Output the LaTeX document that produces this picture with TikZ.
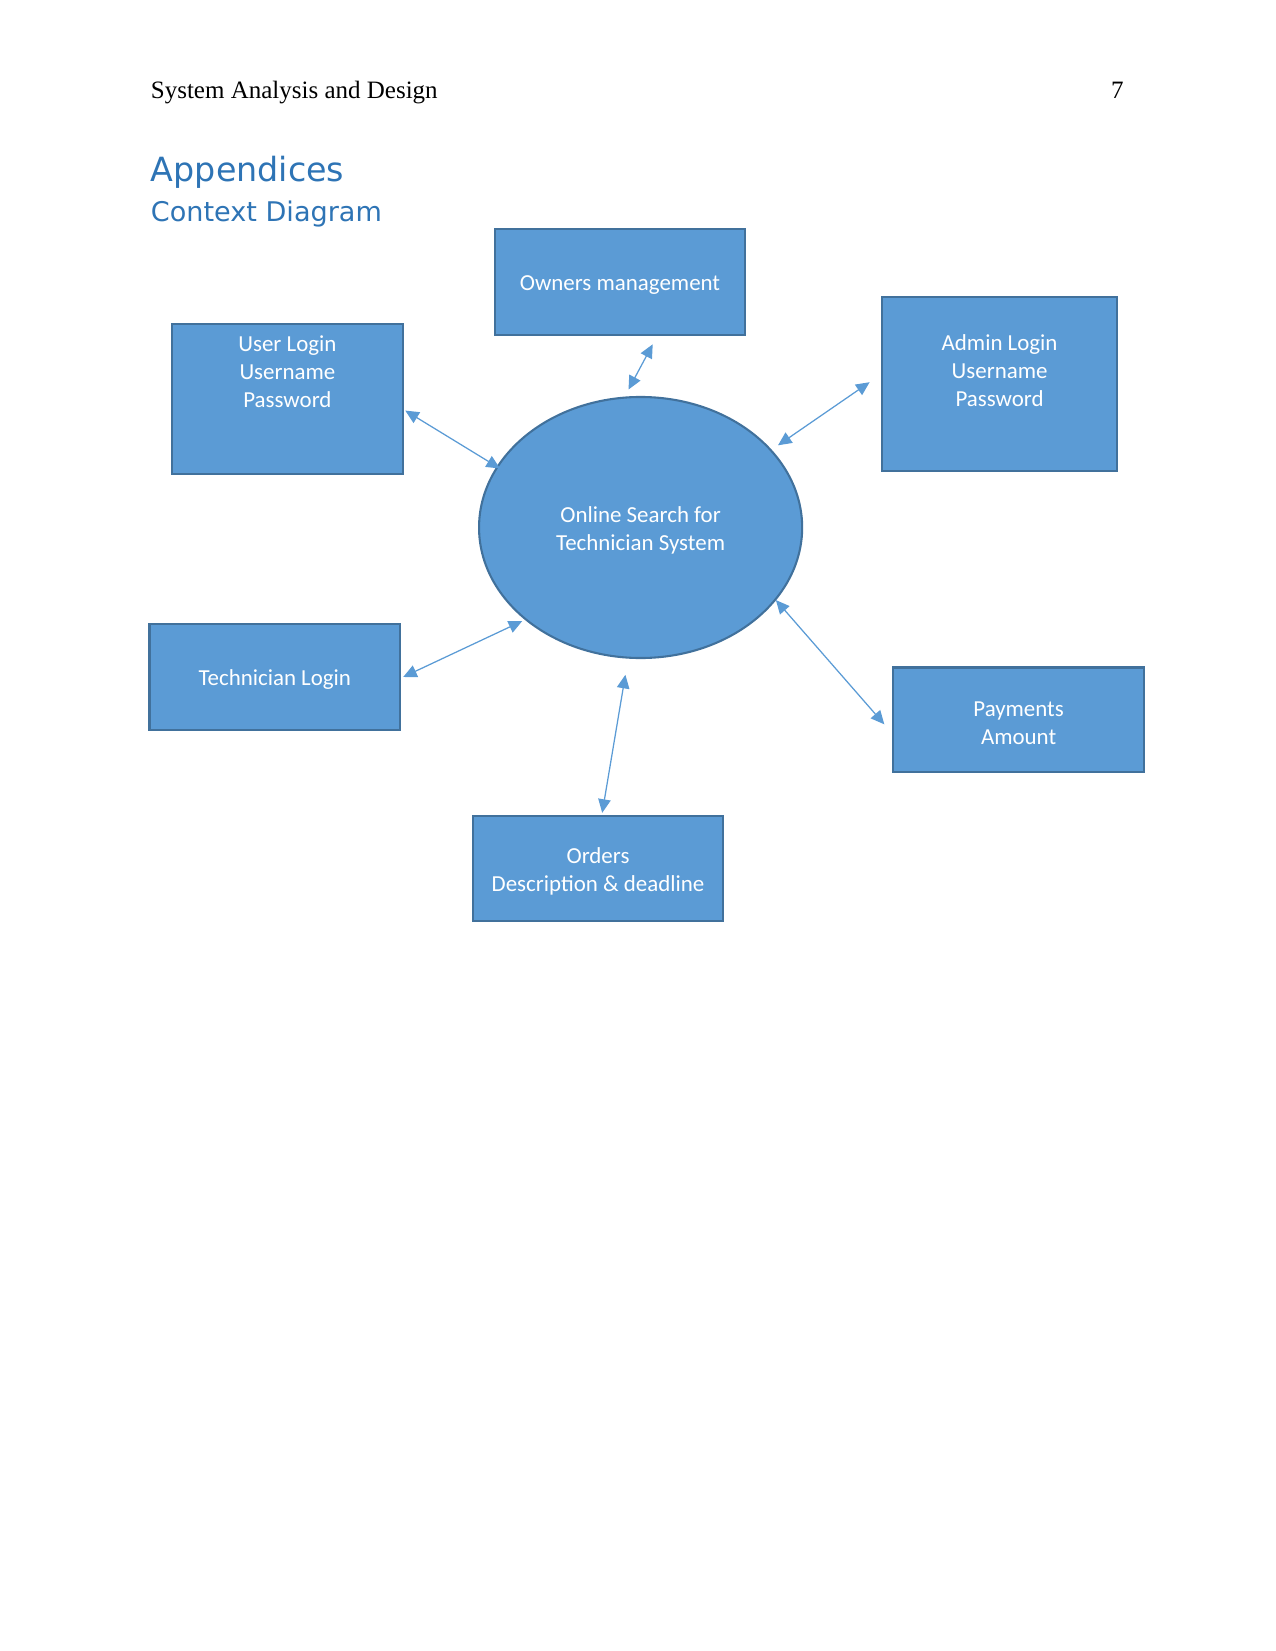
\documentclass[tikz,border=0pt]{standalone}
\usepackage{xcolor}
\usepackage{fontspec}
\setmainfont{Liberation Serif}
\newfontfamily\boxfont{Carlito}
\newfontfamily\headfont{DejaVu Sans}
\usetikzlibrary{positioning,shapes.geometric,arrows.meta}

\definecolor{boxfill}{HTML}{5B9BD5}
\definecolor{boxline}{HTML}{41719C}
\definecolor{headblue}{HTML}{2E74B5}

\begin{document}
\begin{tikzpicture}[x=0.48pt,y=-0.48pt,
  entity/.style={draw=boxline, line width=1pt, fill=boxfill, text=white,
    font=\boxfont\fontsize{11}{13.5}\selectfont, align=center, text height=10.3pt,
    minimum width=120.3pt, minimum height=50.5pt, inner sep=2pt},
  twoline/.style={text height=23.8pt},
  boxtext/.style={text=white, font=\boxfont\fontsize{11}{13.5}\selectfont, align=center},
  process/.style={entity, twoline, ellipse, minimum width=155.1pt, minimum height=125.3pt},
  arr/.style={<->, draw=boxfill, line width=0.6pt, >={Triangle[length=6.5pt,width=6pt]}}
]
  \useasboundingbox (0,0) rectangle (1275,1651);

  % page header and headings
  \node[anchor=base west, inner sep=0pt, font=\fontsize{12}{14}\selectfont] (hdr) at (150.5,99) {System Analysis and Design};
  \node[anchor=base east, inner sep=0pt, font=\fontsize{12}{14}\selectfont] (pg) at (1124,99) {7};
  \node[anchor=base west, inner sep=0pt, text=headblue, font=\headfont\fontsize{16}{19}\selectfont] (app) at (150.5,182) {Appendices};
  \node[anchor=base west, inner sep=0pt, text=headblue, font=\headfont\fontsize{13}{16}\selectfont] (ctx) at (150.5,222) {Context Diagram};

  % central process
  \node[process] (sys) at (640.6,527.5) {Online Search for\\Technician System};

  % external entities
  \node[entity] (own) at (620,282) {Owners management};
  \node[entity, minimum width=111.2pt, minimum height=71.8pt,
    label={[boxtext, yshift=13.2pt]center:{User Login\\Username\\Password}}] (user) at (287.4,399) {};
  \node[entity, minimum width=112.7pt, minimum height=83.4pt,
    label={[boxtext, yshift=6.5pt]center:{Admin Login\\Username\\Password}}] (admin) at (999.6,383.8) {};
  \node[entity] (tech) at (274.8,677) {Technician Login};
  \node[entity, twoline, minimum width=120.8pt, minimum height=50pt] (pay) at (1018.6,719.6) {Payments\\Amount};
  \node[entity, twoline] (ord) at (598,868.6) {Orders\\Description \& deadline};

  % arrow ends
  \coordinate (own-a) at (652.7,344.3);
  \coordinate (own-b) at (628.5,389.5);
  \coordinate (user-a) at (405.3,410.6);
  \coordinate (user-b) at (500,468.5);
  \coordinate (admin-a) at (869.6,382.2);
  \coordinate (admin-b) at (778,445.3);
  \coordinate (tech-a) at (403.2,677);
  \coordinate (tech-b) at (522.2,621.1);
  \coordinate (ord-a) at (625.4,674.8);
  \coordinate (ord-b) at (602.2,812.8);
  \coordinate (pay-a) at (775.9,600.1);
  \coordinate (pay-b) at (884.3,724.3);

  % data flows
  \draw[arr] (own-a) -- (own-b);
  \draw[arr] (user-a) -- (user-b);
  \draw[arr] (admin-a) -- (admin-b);
  \draw[arr] (tech-a) -- (tech-b);
  \draw[arr] (ord-a) -- (ord-b);
  \draw[arr] (pay-a) -- (pay-b);
\end{tikzpicture}
\end{document}
